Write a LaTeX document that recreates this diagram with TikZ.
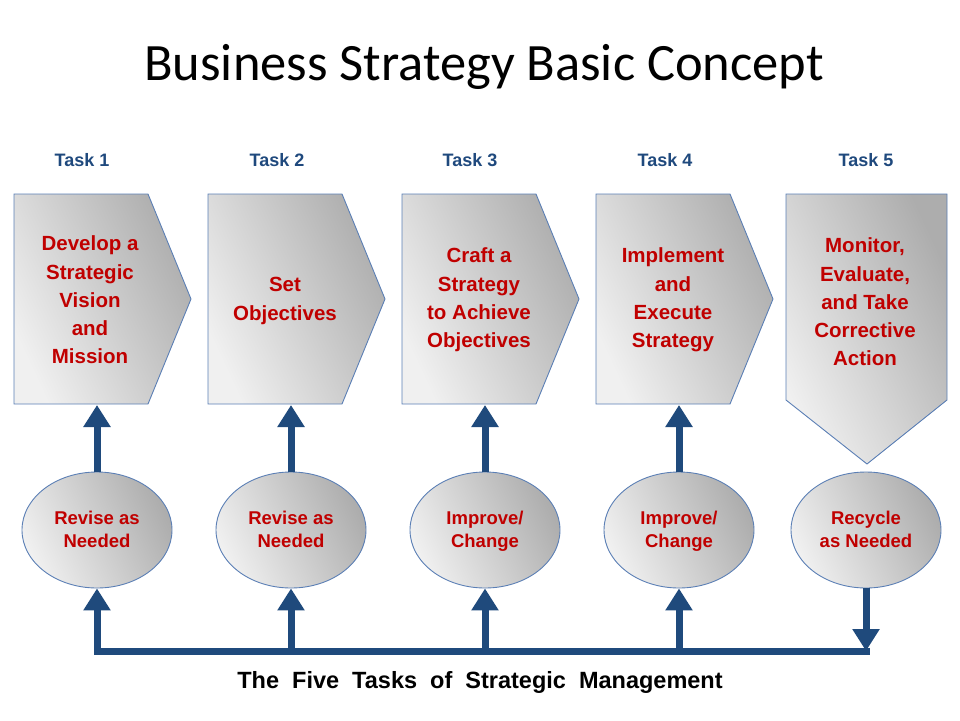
\documentclass[tikz,border=0pt]{standalone}
\usepackage{fontspec}
\setmainfont{Liberation Sans}
\newfontfamily\titlefont{Carlito}
\usetikzlibrary{arrows.meta,shapes.geometric}
\definecolor{taskblue}{HTML}{1F497D}
\definecolor{arrowblue}{HTML}{1F4A7C}
\definecolor{txtred}{HTML}{C00000}
\definecolor{edgeblue}{HTML}{5B7FB5}
\definecolor{shadelight}{HTML}{F0F0F0}
\definecolor{shadedark}{HTML}{ADADAD}
\begin{document}
\begin{tikzpicture}[x=1pt,y=-1pt,
  panel/.style={draw=edgeblue, line width=0.9pt, left color=shadelight, right color=shadedark, shading angle=115},
  oval/.style={ellipse, draw=edgeblue, line width=0.9pt, left color=shadelight, right color=shadedark, shading angle=115,
     minimum width=150pt, minimum height=116pt, inner sep=0pt, align=center, text=txtred,
     font=\bfseries\fontsize{18.5}{23}\selectfont},
  ovaltext/.style={align=center, text=txtred, font=\bfseries\fontsize{18.5}{23}\selectfont},
  paneltext/.style={align=center, text=txtred, font=\bfseries\fontsize{20.5}{28.3}\selectfont},
  tasklabel/.style={text=taskblue, font=\bfseries\fontsize{18}{22}\selectfont},
  conn/.style={draw=arrowblue, line width=7pt},
  tip/.style={-{Triangle[width=26pt,length=22pt]}}
]
\useasboundingbox (0,0) rectangle (960,720);
% title
\node[font=\titlefont\fontsize{52.5}{60}\selectfont] (title) at (484,67) {Business Strategy Basic Concept};
% task labels
\node[tasklabel] (t1) at (82,160) {Task 1};
\node[tasklabel] (t2) at (277,160) {Task 2};
\node[tasklabel] (t3) at (470,160) {Task 3};
\node[tasklabel] (t4) at (665,160) {Task 4};
\node[tasklabel] (t5) at (866,160) {Task 5};
% panels
\foreach \i/\x in {1/14,2/208,3/402,4/596}{
  \path[panel] (\x,194) -- (\x+134,194) -- (\x+177,299) -- (\x+134,404) -- (\x,404) -- cycle;
}
\path[panel] (786,194) -- (947,194) -- (947,400) -- (867,464) -- (786,400) -- cycle;
\coordinate (p1) at (97,405);
\coordinate (p2) at (291,405);
\coordinate (p3) at (485,405);
\coordinate (p4) at (679,405);
% panel texts
\node[paneltext] (x1) at (90,300) {Develop a\\Strategic\\Vision\\and\\Mission};
\node[paneltext] (x2) at (285,301) {Set\\Objectives};
\node[paneltext] (x3) at (479,300) {Craft a\\Strategy\\to Achieve\\Objectives};
\node[paneltext] (x4) at (673,300) {Implement\\and\\Execute\\Strategy};
\node[paneltext] (x5) at (865,302) {Monitor,\\Evaluate,\\and Take\\Corrective\\Action};
% ovals
\node[oval] (e1) at (97,530) {};
\node[oval] (e2) at (291,530) {};
\node[oval] (e3) at (485,530) {};
\node[oval] (e4) at (679,530) {};
\node[oval] (e5) at (866,530) {};
\node[ovaltext] (o1) at (97,533) {Revise as\\Needed\strut};
\node[ovaltext] (o2) at (291,533) {Revise as\\Needed\strut};
\node[ovaltext] (o3) at (485,533) {Improve/\\Change\strut};
\node[ovaltext] (o4) at (679,533) {Improve/\\Change\strut};
\node[ovaltext] (o5) at (866,533) {Recycle\\as Needed\strut};
% arrows up to panels
\draw[conn,tip] (e1.north) -- (p1);
\draw[conn,tip] (e2.north) -- (p2);
\draw[conn,tip] (e3.north) -- (p3);
\draw[conn,tip] (e4.north) -- (p4);
% bottom loop
\coordinate (b1) at (97,651);
\coordinate (b2) at (291,651);
\coordinate (b3) at (485,651);
\coordinate (b4) at (679,651);
\coordinate (b5) at (866,651);
\draw[conn,line cap=rect] (b1) -- (b5);
\draw[conn,tip] (b1) -- (e1.south);
\draw[conn,tip] (b2) -- (e2.south);
\draw[conn,tip] (b3) -- (e3.south);
\draw[conn,tip] (b4) -- (e4.south);
\draw[conn,tip] (e5.south) -- (b5);
% caption
\node[font=\bfseries\fontsize{23.5}{27}\selectfont] (cap) at (480,682) {The\ \ Five\ \ Tasks\ \ of\ \ Strategic\ \ Management};
\end{tikzpicture}
\end{document}
